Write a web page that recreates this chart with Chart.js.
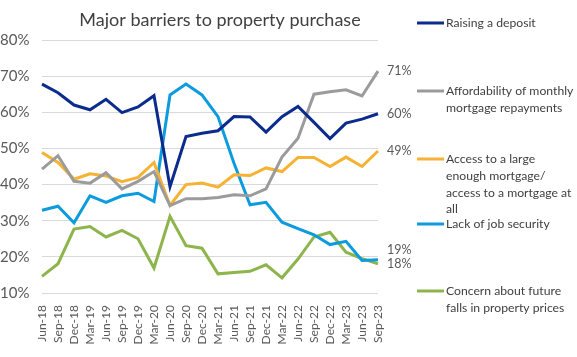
<!DOCTYPE html>
<html><head><meta charset="utf-8">
<script src="https://cdn.jsdelivr.net/npm/chart.js@4"></script>
<style>html,body{margin:0;padding:0;background:#fff}#wrap{width:577px;height:357px;position:relative}canvas{display:block}</style>
</head><body><div id="wrap"><canvas id="c" width="577" height="357"></canvas></div>
<script>
const chartTitle = 'Major barriers to property purchase';
const categories = ['Jun-18','Sep-18','Dec-18','Mar-19','Jun-19','Sep-19','Dec-19','Mar-20','Jun-20','Sep-20','Dec-20','Mar-21','Jun-21','Sep-21','Dec-21','Mar-22','Jun-22','Sep-22','Dec-22','Mar-23','Jun-23','Sep-23'];
const raisingDeposit = [67.8,65.4,62.0,60.7,63.6,59.9,61.5,64.6,39.4,53.3,54.2,54.9,58.8,58.7,54.5,58.8,61.6,57.2,52.7,57.0,58.1,59.6];
const affordability  = [44.3,48.0,40.9,40.4,43.3,38.8,40.9,43.6,34.2,36.1,36.1,36.4,37.2,36.9,38.8,47.6,52.8,65.0,65.7,66.2,64.5,71.4];
const accessMortgage = [48.9,46.1,41.5,43.0,42.4,40.8,42.0,46.1,34.2,40.0,40.4,39.3,42.7,42.5,44.6,43.6,47.5,47.5,45.0,47.6,45.0,49.3];
const jobSecurity    = [32.9,34.0,29.4,36.9,35.1,36.9,37.6,35.3,64.8,67.8,64.8,58.8,45.9,34.4,35.1,29.6,27.8,26.1,23.4,24.3,19.0,19.2];
const propertyPrices = [14.6,18.1,27.7,28.4,25.5,27.3,25.0,16.9,31.2,23.1,22.4,15.3,15.7,16.0,17.8,14.2,19.4,25.5,26.8,21.3,19.5,18.1];
const yTicks = [10,20,30,40,50,60,70,80];
const seriesNames = [
  ['Raising a deposit'],
  ['Affordability of monthly','mortgage repayments'],
  ['Access to a large','enough mortgage/','access to a mortgage at','all'],
  ['Lack of job security'],
  ['Concern about future','falls in property prices']
];
const seriesValues = [raisingDeposit, affordability, accessMortgage, jobSecurity, propertyPrices];
const seriesColors = ['#0B2C8C','#9B9B9B','#F7B133','#0C9BDD','#8DB54B'];

const FONT = 'Lato, "Open Sans", sans-serif';
const legendY = [23, 91, 159, 224, 291];

const annot = {
  id: 'annot',
  afterDraw(chart) {
    const ctx = chart.ctx;
    const ys = chart.scales.y;
    ctx.save();
    // title
    ctx.fillStyle = '#404040';
    ctx.font = '18px ' + FONT;
    ctx.textAlign = 'center';
    ctx.textBaseline = 'middle';
    ctx.fillText(chartTitle, 220, 20);
    // end labels
    const labs = seriesValues.map((arr, i) => {
      const v = arr[arr.length - 1];
      return { text: Math.round(v) + '%', y: ys.getPixelForValue(v) };
    }).sort((a, b) => b.y - a.y);
    for (let i = 1; i < labs.length; i++) {
      if (labs[i - 1].y - labs[i].y < 14) labs[i].y = labs[i - 1].y - 14;
    }
    ctx.font = '12.5px ' + FONT;
    ctx.fillStyle = '#595959';
    ctx.textAlign = 'left';
    labs.forEach(l => ctx.fillText(l.text, 387, l.y));
    // legend
    ctx.font = '12.2px ' + FONT;
    seriesNames.forEach((lines, i) => {
      const y0 = legendY[i];
      ctx.strokeStyle = seriesColors[i];
      ctx.lineWidth = 3;
      ctx.beginPath();
      ctx.moveTo(417, y0);
      ctx.lineTo(444, y0);
      ctx.stroke();
      ctx.fillStyle = '#404040';
      lines.forEach((t, k) => ctx.fillText(t, 446, y0 + k * 16.8));
    });
    ctx.restore();
  }
};

new Chart(document.getElementById('c'), {
  type: 'line',
  data: {
    labels: categories,
    datasets: seriesValues.map((arr, i) => ({
      label: seriesNames[i].join(' '),
      data: arr,
      borderColor: seriesColors[i],
      backgroundColor: seriesColors[i],
      borderWidth: 3,
      pointRadius: 0,
      tension: 0,
      fill: false
    }))
  },
  options: {
    responsive: false,
    animation: false,
    devicePixelRatio: 1,
    layout: { padding: { left: 0, right: 199, top: 40, bottom: 0 } },
    plugins: { legend: { display: false }, title: { display: false }, tooltip: { enabled: false } },
    scales: {
      x: {
        offset: false,
        grid: { display: false },
        border: { display: false },
        ticks: {
          autoSkip: false, minRotation: 90, maxRotation: 90,
          color: '#595959', font: { family: FONT, size: 12 }, padding: 4
        },
        afterFit(s) { s.height = 64; }
      },
      y: {
        min: 10, max: 80,
        afterBuildTicks(s) { s.ticks = yTicks.map(v => ({ value: v })); },
        grid: { color: '#D9D9D9', lineWidth: 1, drawTicks: false },
        border: { display: false },
        ticks: {
          color: '#595959', font: { family: FONT, size: 15 }, crossAlign: 'far', padding: 6,
          callback: v => v + '%'
        },
        afterFit(s) { s.width = 42; }
      }
    }
  },
  plugins: [annot]
});
</script>
</body></html>
